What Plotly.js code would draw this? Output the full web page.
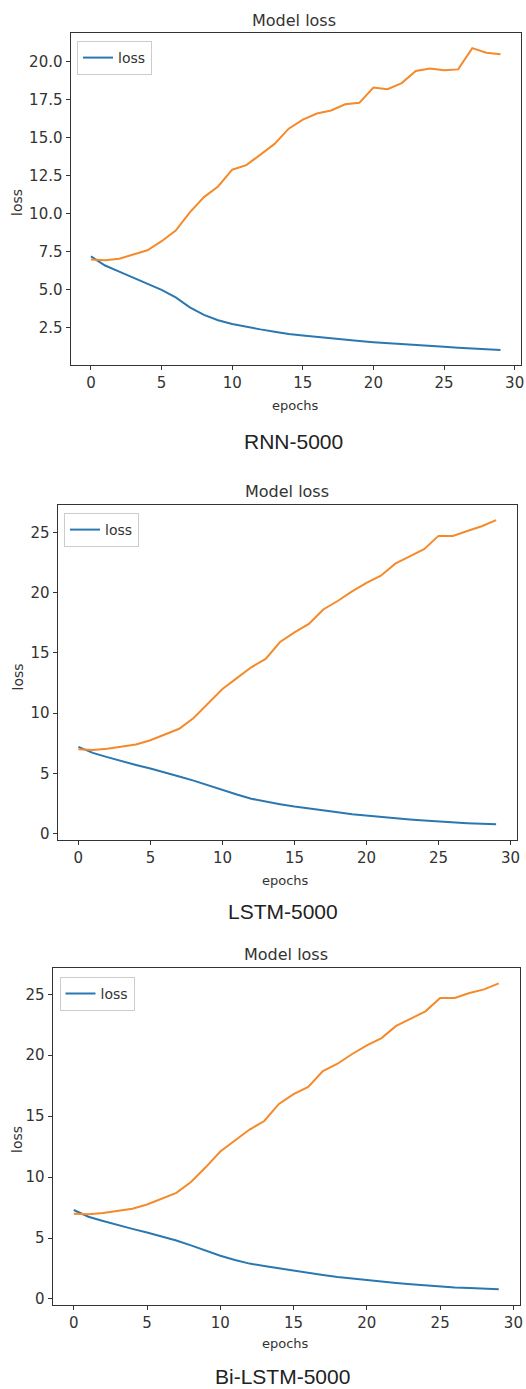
<!DOCTYPE html>
<html>
<head>
<meta charset="utf-8">
<script src="https://cdn.plot.ly/plotly-3.0.1.min.js"></script>
<style>html,body{margin:0;padding:0;background:#fff;}#chart{width:526px;height:1389px;}</style>
</head>
<body>
<div id="chart"></div>
<script>
const epochs = [0,1,2,3,4,5,6,7,8,9,10,11,12,13,14,15,16,17,18,19,20,21,22,23,24,25,26,27,28,29];

const rnnLoss = [7.2,6.6,6.2,5.8,5.4,5.0,4.5,3.85,3.35,3.0,2.75,2.55,2.4,2.25,2.1,2.0,1.9,1.8,1.72,1.63,1.55,1.48,1.41,1.35,1.3,1.25,1.2,1.15,1.11,1.05];
const rnnVal  = [7.0,6.95,7.05,7.3,7.6,8.2,8.9,10.1,11.1,11.8,12.9,13.2,13.9,14.6,15.6,16.2,16.6,16.8,17.2,17.3,18.3,18.2,18.6,19.4,19.55,19.45,19.5,20.9,20.6,20.5];

const lstmLoss = [7.2,6.7,6.35,6.0,5.7,5.4,5.1,4.75,4.4,4.0,3.6,3.25,2.9,2.65,2.45,2.25,2.07,1.92,1.77,1.62,1.5,1.39,1.28,1.18,1.09,1.0,0.93,0.87,0.82,0.78];
const lstmVal  = [7.0,6.95,7.05,7.25,7.4,7.75,8.2,8.7,9.6,10.8,12.0,12.9,13.8,14.5,15.9,16.7,17.4,18.6,19.3,20.1,20.8,21.4,22.4,23.0,23.6,24.7,24.7,25.1,25.5,26.0];

const bilstmLoss = [7.3,6.75,6.4,6.05,5.75,5.45,5.15,4.8,4.4,3.95,3.55,3.2,2.9,2.7,2.5,2.3,2.12,1.96,1.8,1.66,1.55,1.42,1.3,1.2,1.1,1.02,0.95,0.9,0.85,0.8];
const bilstmVal  = [7.0,6.95,7.05,7.25,7.4,7.75,8.2,8.7,9.6,10.8,12.1,13.0,13.9,14.6,16.0,16.8,17.4,18.7,19.3,20.1,20.8,21.4,22.4,23.0,23.6,24.7,24.7,25.1,25.4,25.9];

const panelTitle = "Model loss";
const xLabel = "epochs";
const yLabel = "loss";
const legendLabel = "loss";
const captions = ["RNN-5000", "LSTM-5000", "Bi-LSTM-5000"];

const W = 526, H = 1389;
const px = v => v / W;
const py = v => 1 - v / H;

// panel boxes in pixels: [left, right, top, bottom]
const boxes = [
  [70.5, 521, 33, 365],
  [57.5, 517, 505, 839.5],
  [52.5, 520, 968, 1304.5]
];
const series = [[rnnLoss, rnnVal], [lstmLoss, lstmVal], [bilstmLoss, bilstmVal]];
const yDticks = [2.5, 5, 5];
const yFormats = ['.1f', 'd', 'd'];
const legendPos = [[77, 41], [64, 513], [59.5, 977]];
const titlePos = [[294, 20], [287, 492], [286, 954]];
const xlabPos = [[295, 405], [285, 880], [285, 1343]];
const ylabPos = [[17, 203], [17.5, 677], [17, 1140]];
const capPos = [[293, 442], [283, 911], [282, 1376]];

const tickFont = {family: 'DejaVu Sans, sans-serif', size: 15, color: '#333'};
const traces = [];
const layout = {
  width: W, height: H,
  margin: {l: 0, r: 0, t: 0, b: 0},
  paper_bgcolor: '#fff', plot_bgcolor: '#fff',
  showlegend: true,
  annotations: []
};

function pad(arrs) {
  let mn = Infinity, mx = -Infinity;
  arrs.forEach(a => a.forEach(v => { mn = Math.min(mn, v); mx = Math.max(mx, v); }));
  const m = (mx - mn) * 0.05;
  return [mn - m, mx + m];
}

for (let i = 0; i < 3; i++) {
  const sfx = i === 0 ? '' : String(i + 1);
  const xa = 'x' + sfx, ya = 'y' + sfx;
  const lg = 'legend' + sfx;
  const [loss, val] = series[i];
  traces.push({
    x: epochs, y: loss, xaxis: xa, yaxis: ya, type: 'scatter', mode: 'lines',
    name: legendLabel, line: {color: '#2b78b0', width: 2}, legend: lg, showlegend: true
  });
  traces.push({
    x: epochs, y: val, xaxis: xa, yaxis: ya, type: 'scatter', mode: 'lines',
    name: 'val_loss', line: {color: '#f58a2a', width: 2}, legend: lg, showlegend: false
  });
  const b = boxes[i];
  const span = epochs[epochs.length-1] - epochs[0];
  const xr = [epochs[0] - span*0.05, epochs[epochs.length-1] + span*0.05];
  layout['xaxis' + sfx] = {
    domain: [px(b[0]), px(b[1])], anchor: ya, range: xr,
    tickmode: 'linear', tick0: 0, dtick: 5,
    showgrid: false, zeroline: false, showline: true, mirror: true,
    linecolor: '#333', linewidth: 1, ticks: 'outside', ticklen: 4, tickcolor: '#333',
    tickfont: tickFont
  };
  layout['yaxis' + sfx] = {
    domain: [py(b[3]), py(b[2])], anchor: xa, range: pad([loss, val]),
    tickmode: 'linear', tick0: 0, dtick: yDticks[i], tickformat: yFormats[i],
    showgrid: false, zeroline: false, showline: true, mirror: true,
    linecolor: '#333', linewidth: 1, ticks: 'outside', ticklen: 4, tickcolor: '#333',
    tickfont: tickFont
  };
  layout[lg] = {
    x: px(legendPos[i][0]), y: py(legendPos[i][1]), xanchor: 'left', yanchor: 'top',
    xref: 'paper', yref: 'paper', itemwidth: 30,
    bgcolor: 'rgba(255,255,255,0.8)', bordercolor: '#ccc', borderwidth: 1,
    font: {family: 'DejaVu Sans, sans-serif', size: 14, color: '#333'}
  };
  layout.annotations.push({
    text: panelTitle, xref: 'paper', yref: 'paper', x: px(titlePos[i][0]), y: py(titlePos[i][1]),
    xanchor: 'center', yanchor: 'middle', showarrow: false,
    font: {family: 'DejaVu Sans, sans-serif', size: 16, color: '#333'}
  });
  layout.annotations.push({
    text: xLabel, xref: 'paper', yref: 'paper', x: px(xlabPos[i][0]), y: py(xlabPos[i][1]),
    xanchor: 'center', yanchor: 'middle', showarrow: false,
    font: {family: 'DejaVu Sans, sans-serif', size: 13, color: '#333'}
  });
  layout.annotations.push({
    text: yLabel, xref: 'paper', yref: 'paper', x: px(ylabPos[i][0]), y: py(ylabPos[i][1]),
    xanchor: 'center', yanchor: 'middle', showarrow: false, textangle: -90,
    font: {family: 'DejaVu Sans, sans-serif', size: 14, color: '#333'}
  });
  layout.annotations.push({
    text: captions[i], xref: 'paper', yref: 'paper', x: px(capPos[i][0]), y: py(capPos[i][1]),
    xanchor: 'center', yanchor: 'middle', showarrow: false,
    font: {family: 'Liberation Sans, Arial, sans-serif', size: 21, color: '#222'}
  });
}

Plotly.newPlot('chart', traces, layout, {staticPlot: true, displayModeBar: false});
</script>
</body>
</html>
